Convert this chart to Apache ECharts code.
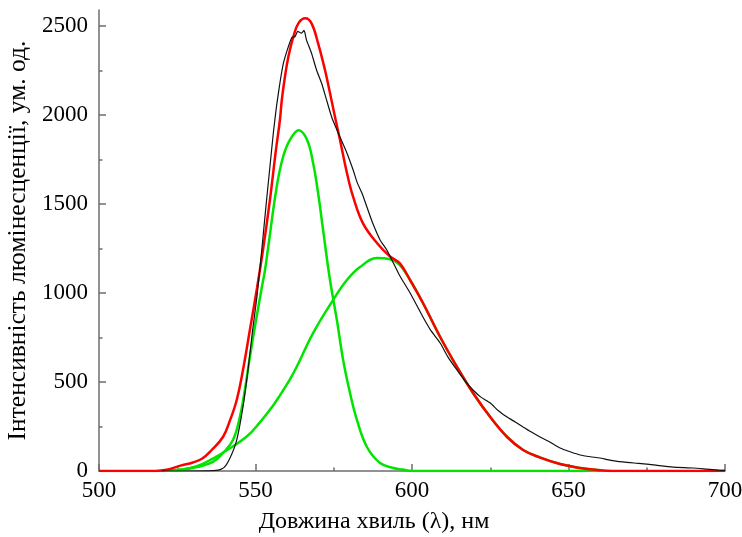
<!DOCTYPE html>
<html>
<head>
<meta charset="utf-8">
<script src="https://cdn.jsdelivr.net/npm/echarts@6/dist/echarts.min.js"></script>
<style>html,body{margin:0;padding:0;background:#fff}#c{width:742px;height:537px}</style>
</head>
<body>
<div id="c"></div>
<script>
// Experimental spectrum (black)
var blackX = [520,530,538,540,542,544,546,547.6,549,550.5,552,553.3,554.6,555.7,556.7,557.8,558.9,560.5,561.7,562.6,563.5,564.7,565.5,566.3,567.9,569.5,571.1,572.7,574.5,577,579.2,581.2,582.5,584,585.6,587.5,589.8,592,594,596,599.4,603.5,606,609,611.5,614.4,617,619.5,622,625,627.5,630.4,633,635.5,638,640.9,644,647.3,650.5,653.7,657,660,663.5,667.4,671,675,679,683.4,689.8,694,698,700];
var blackY = [0,0,5,20,79,174,360,567,780,985,1242,1480,1708,1899,2047,2180,2290,2384,2438,2440,2470,2460,2475,2421,2347,2253,2180,2085,1980,1876,1787,1691,1620,1562,1483,1390,1298,1240,1170,1100,1000,865,790,719,640,567,505,455,415,382,340,303,275,247,220,191,163,129,108,90,80,73,60,51,45,39,30,22,17,11,5,3];
// Fitted sum (red)
var redX = [500,518,522,526,530,533,536,539.6,541.9,544,546,548.2,550.5,552.4,554.6,556.5,557.8,558.4,559.4,560.5,562.1,563.7,565.9,567.9,570,572.2,573.8,575.4,577,579.4,581.2,584.3,588.8,593,596,599.4,603.5,609,614.4,619.5,625,630.4,635.5,641,647.3,653.7,659,664,700];
var redY = [0,0,8,30,48,70,118,191,287,399,567,792,1030,1242,1522,1800,1972,2084,2215,2328,2440,2515,2543,2515,2403,2253,2124,1989,1860,1660,1540,1393,1281,1205,1169,1073,944,753,584,438,303,191,118,75,39,17,6,0,0];
// Component 1 (green, narrow)
var g1X = [520,526,531.3,536.4,539.6,542.8,545,546.6,548.2,550,552,553,554,556.8,558.8,561,563.8,566.5,568.4,570,571.6,573.8,576,578,580.2,582.4,585.6,589.8,594,597,600,660];
var g1Y = [0,5,22,51,101,174,303,455,640,830,1030,1125,1250,1600,1764,1860,1915,1860,1730,1562,1354,1073,848,624,438,287,135,45,17,8,0,0];
// Component 2 (green, broad)
var g2X = [520,526,531,536.4,541,547.3,551,555.7,557.8,561,563.3,568.4,574.8,579.2,583.4,588.8,593,596,599.4,603.5,609,614.4,619.5,625,630.4,635.5,641,647.3,653.7,660];
var g2Y = [0,8,25,70,118,195,265,370,425,515,590,775,961,1073,1146,1197,1190,1160,1073,944,753,584,438,303,191,118,75,39,17,5];

var yMajor = [0,500,1000,1500,2000,2500];
var yMinor = [250,750,1250,1750,2250];

function pairs(xs, ys){ return xs.map(function(x,i){ return [x, ys[i]]; }); }

var axisColor = '#6e6e6e';
var font = 'Liberation Serif';
var chart = echarts.init(document.getElementById('c'), null, {renderer:'canvas'});
chart.setOption({
  animation: false,
  backgroundColor: '#fff',
  grid: {left: 99, right: 17, top: 10, bottom: 66, containLabel: false, outerBoundsMode: 'none'},
  xAxis: {
    type: 'value', min: 500, max: 700, interval: 50,
    name: 'Довжина хвиль (λ), нм', nameLocation: 'middle', nameGap: 39,
    nameTextStyle: {fontFamily: font, fontSize: 24, color: '#000', padding: [0, 76, 0, 0]},
    axisLine: {show: true, lineStyle: {color: axisColor, width: 1.5}},
    axisTick: {show: true, inside: true, length: 7, lineStyle: {color: axisColor, width: 1.5}},
    minorTick: {show: true, splitNumber: 2, length: 3.5, lineStyle: {color: axisColor, width: 1.5}},
    axisLabel: {fontFamily: font, fontSize: 23, color: '#000', margin: 8},
    splitLine: {show: false}, minorSplitLine: {show: false}
  },
  yAxis: [{
    type: 'value', min: 0, max: 2590,
    name: 'Інтенсивність люмінесценції, ум. од.', nameLocation: 'middle', nameGap: 66,
    nameTextStyle: {fontFamily: font, fontSize: 25.5, color: '#000'},
    axisLine: {show: true, lineStyle: {color: axisColor, width: 1.5}},
    axisTick: {show: true, inside: true, length: 7, customValues: yMajor, lineStyle: {color: axisColor, width: 1.5}},
    axisLabel: {fontFamily: font, fontSize: 23, color: '#000', margin: 11, customValues: yMajor,
      formatter: function(v){ return (v % 500 === 0) ? String(v) : ''; }},
    splitLine: {show: false}
  }, {
    type: 'value', min: 0, max: 2590, position: 'left',
    axisLine: {show: false},
    axisTick: {show: true, inside: true, length: 3.5, customValues: yMinor, lineStyle: {color: axisColor, width: 1.5}},
    axisLabel: {show: false},
    splitLine: {show: false}
  }],
  series: [
    {type: 'line', data: pairs(g1X, g1Y), showSymbol: false, smooth: 0.4, lineStyle: {color: '#00e400', width: 2.5}, itemStyle: {color: '#00e400'}, z: 2},
    {type: 'line', data: pairs(g2X, g2Y), showSymbol: false, smooth: 0.4, lineStyle: {color: '#00e400', width: 2.5}, itemStyle: {color: '#00e400'}, z: 2},
    {type: 'line', data: pairs(redX, redY), showSymbol: false, smooth: 0.4, lineStyle: {color: '#ff0000', width: 2.5}, itemStyle: {color: '#ff0000'}, z: 3},
    {type: 'line', data: pairs(blackX, blackY), showSymbol: false, smooth: 0.2, lineStyle: {color: '#111', width: 1.2}, itemStyle: {color: '#111'}, z: 4}
  ]
});
</script>
</body>
</html>
